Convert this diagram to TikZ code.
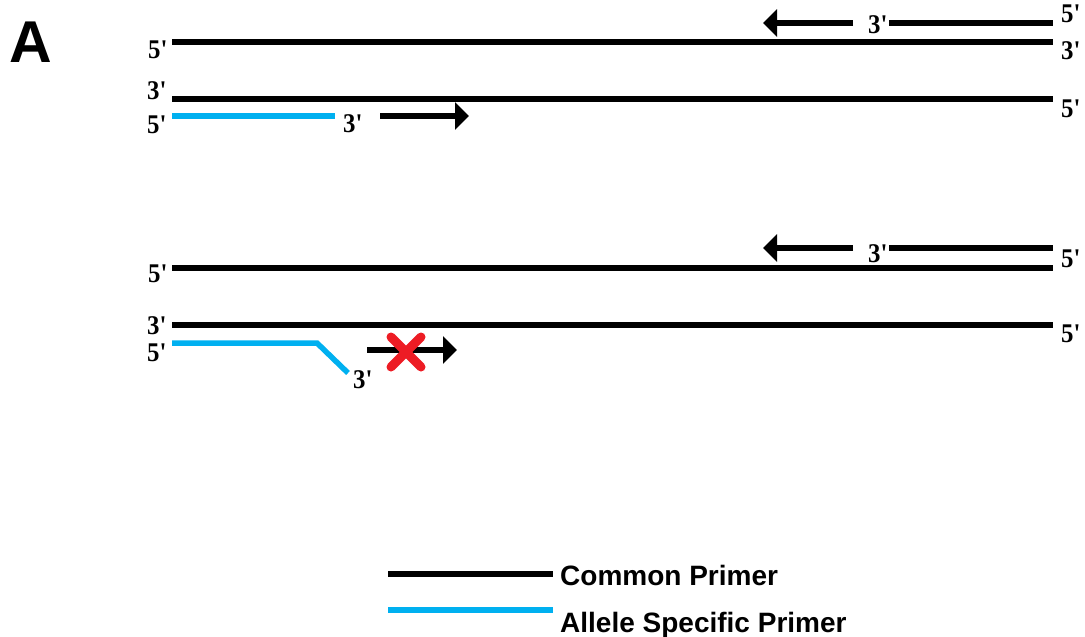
\documentclass[tikz,border=0pt]{standalone}
\usepackage{fontspec}
\usetikzlibrary{arrows.meta}
\newfontfamily\labfont{Liberation Serif}
\newfontfamily\legfont{Liberation Sans}
\definecolor{asblue}{RGB}{0,176,240}
\definecolor{xred}{RGB}{237,28,36}
\tikzset{
  strand/.style={line width=5.5pt, black},
  asprimer/.style={line width=5.5pt, asblue},
  extend/.style={line width=5.5pt, black, -{Triangle[length=14pt,width=27pt]}},
  endlab/.style={anchor=base west, inner sep=0pt, xscale=0.92,
    font=\labfont\bfseries\fontsize{27}{27}\selectfont},
  legtext/.style={anchor=base west, inner sep=0pt, font=\legfont\bfseries\fontsize{28}{28}\selectfont}
}
\newcommand{\fp}{5\textquotesingle}
\newcommand{\tp}{3\textquotesingle}
\begin{document}
\begin{tikzpicture}[x=1pt,y=-1pt]
\useasboundingbox (0,0) rectangle (1085,637);

% panel letter
\node[anchor=base west, inner sep=0pt, font=\legfont\bfseries\fontsize{59}{59}\selectfont] (A) at (9,62) {A};

% ---------- first pair: primer matches ----------
\coordinate (s1l) at (172,42);  \coordinate (s1r) at (1053,42);
\coordinate (s2l) at (172,99);  \coordinate (s2r) at (1053,99);
\coordinate (c1l) at (889,23);  \coordinate (c1r) at (1053,23);
\coordinate (c1a) at (853,23);  \coordinate (c1t) at (763,23);
\coordinate (b1l) at (172,116); \coordinate (b1r) at (335,116);
\coordinate (b1a) at (380,116); \coordinate (b1t) at (469,116);

\draw[strand] (s1l) -- (s1r);
\draw[strand] (s2l) -- (s2r);
\draw[strand] (c1l) -- (c1r);
\draw[extend] (c1a) -- (c1t);
\draw[asprimer] (b1l) -- (b1r);
\draw[extend] (b1a) -- (b1t);

\node[endlab] (l1) at (148,58) {\fp};
\node[endlab] (l2) at (1061,23) {\fp};
\node[endlab] (l3) at (1061,59) {\tp};
\node[endlab] (l4) at (868,33) {\tp};
\node[endlab] (l5) at (147,99) {\tp};
\node[endlab] (l6) at (147,133) {\fp};
\node[endlab] (l7) at (343,132) {\tp};
\node[endlab] (l8) at (1061,117) {\fp};

% ---------- second pair: 3' mismatch, no extension ----------
\coordinate (s3l) at (172,268); \coordinate (s3r) at (1053,268);
\coordinate (s4l) at (172,325); \coordinate (s4r) at (1053,325);
\coordinate (c2l) at (889,248); \coordinate (c2r) at (1053,248);
\coordinate (c2a) at (853,248); \coordinate (c2t) at (763,248);
\coordinate (b2l) at (172,343); \coordinate (b2k) at (317,343);
\coordinate (b2r) at (348,373);
\coordinate (b2a) at (367,350); \coordinate (b2t) at (457,350);

\draw[strand] (s3l) -- (s3r);
\draw[strand] (s4l) -- (s4r);
\draw[strand] (c2l) -- (c2r);
\draw[extend] (c2a) -- (c2t);
\draw[asprimer] (b2l) -- (b2k) -- (b2r);
\draw[extend] (b2a) -- (b2t);

% blocked extension
\coordinate (x1) at (391,337); \coordinate (x2) at (421,367);
\coordinate (x3) at (421,337); \coordinate (x4) at (391,367);
\draw[xred, line width=9pt, line cap=round] (x1) -- (x2) (x3) -- (x4);

\node[endlab] (m1) at (148,282) {\fp};
\node[endlab] (m2) at (868,262) {\tp};
\node[endlab] (m3) at (1061,267) {\fp};
\node[endlab] (m4) at (147,334) {\tp};
\node[endlab] (m5) at (147,361) {\fp};
\node[endlab] (m6) at (353,388) {\tp};
\node[endlab] (m7) at (1061,342) {\fp};

% ---------- legend ----------
\coordinate (k1l) at (388,574); \coordinate (k1r) at (553,574);
\coordinate (k2l) at (388,610); \coordinate (k2r) at (553,610);
\draw[strand] (k1l) -- (k1r);
\draw[asprimer] (k2l) -- (k2r);
\node[legtext] (t1) at (560,585) {Common Primer};
\node[legtext] (t2) at (560,632) {Allele Specific Primer};
\end{tikzpicture}
\end{document}
